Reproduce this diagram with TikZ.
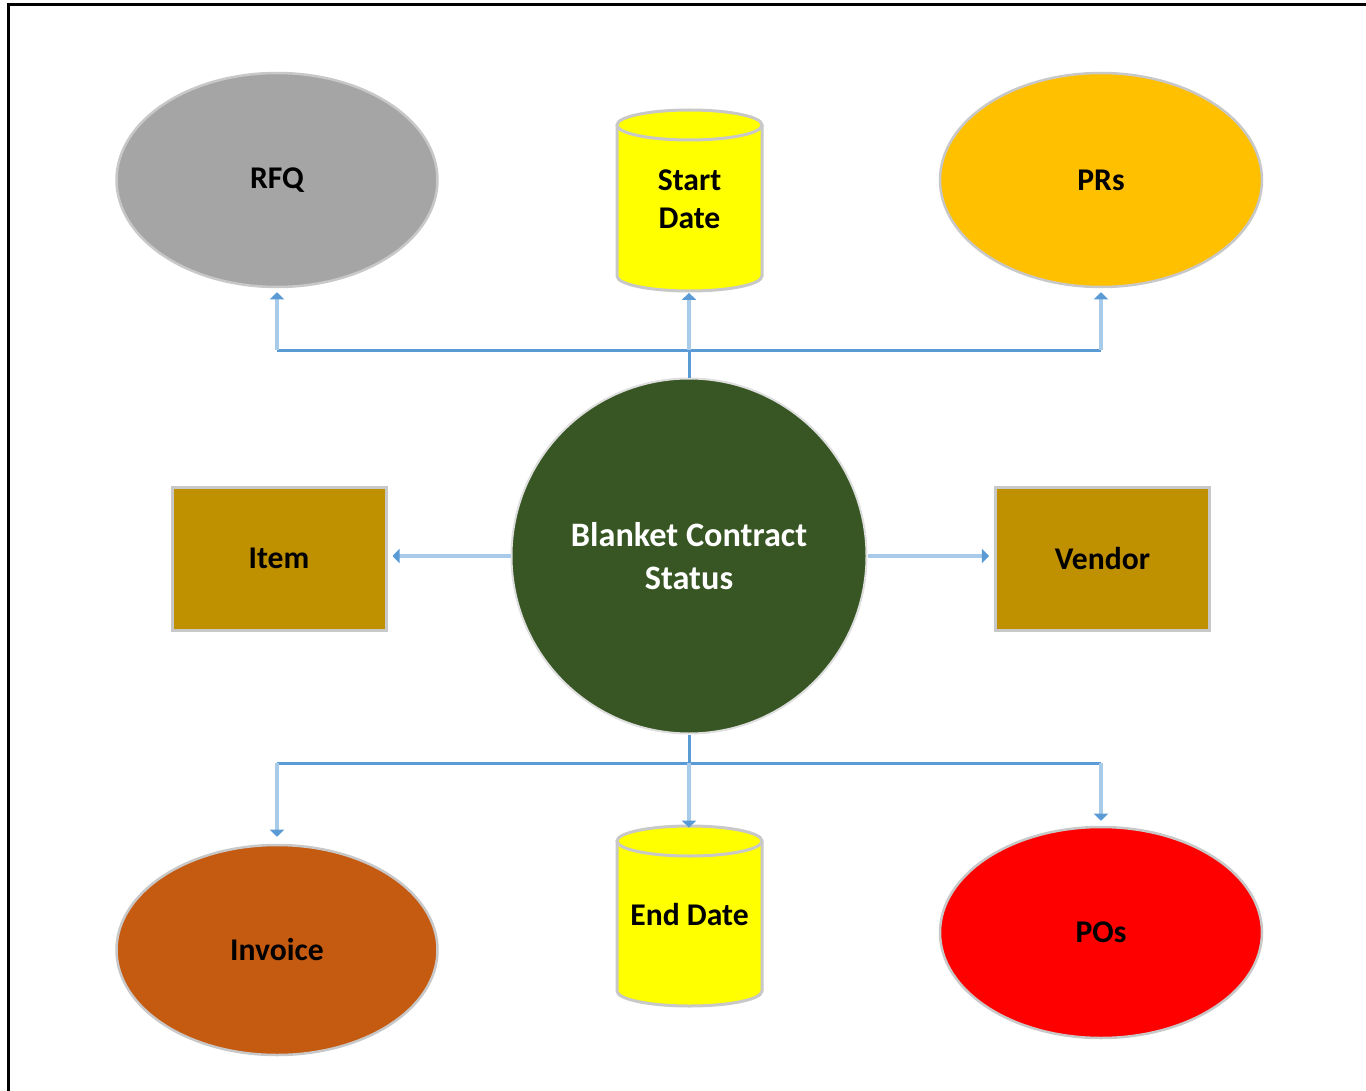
\documentclass[tikz,border=0pt]{standalone}
\usepackage{fontspec}
\setmainfont{Carlito}
\usetikzlibrary{arrows.meta,shapes.geometric}
\definecolor{conn}{HTML}{5B9BD5}
\definecolor{connlight}{HTML}{A9CBEA}
\definecolor{rfqgray}{HTML}{A5A5A5}
\definecolor{prsorange}{HTML}{FFC000}
\definecolor{darkgreen}{HTML}{375623}
\definecolor{gold}{HTML}{BF9000}
\definecolor{invoicebrown}{HTML}{C55A11}
\definecolor{posred}{HTML}{FF0000}
\definecolor{cylyellow}{HTML}{FFFF00}
\definecolor{rim}{HTML}{C8C8C8}
\newlength{\pxu}
\setlength{\pxu}{0.02cm}
\tikzset{
  ell/.style={ellipse, draw=rim, line width=2.5*\pxu, inner sep=0pt, font=\fontsize{18}{21.5}\selectfont\bfseries},
  boxnode/.style={rectangle, draw=rim, line width=3*\pxu, inner sep=0pt, minimum width=214*\pxu, minimum height=143*\pxu, fill=gold, font=\fontsize{18}{21.5}\selectfont\bfseries},
  cylnode/.style={rectangle, inner sep=0pt, minimum width=145*\pxu, align=center, font=\fontsize{18}{21.5}\selectfont\bfseries},
  trunk/.style={draw=conn, line width=3*\pxu},
  branch/.style={draw=connlight, line width=4*\pxu, -{Triangle[length=4pt,width=8pt,color=conn]}},
  frame/.style={draw=black, line width=3*\pxu}
}
\begin{document}
\begin{tikzpicture}[x=0.02cm,y=-0.02cm]
\useasboundingbox (0,0) rectangle (1366,1091);
% frame
\draw[frame] (8.5,1091) -- (8.5,5) -- (1366,5);

% cylinders (drawn directly)
\foreach \cx/\yt/\yb in {689.5/125/276, 689.5/841/991}{
  \fill[cylyellow] (\cx-72.5,\yt) rectangle (\cx+72.5,\yb);
  \fill[cylyellow] (\cx,\yb) ellipse [x radius=72.5, y radius=15];
  \fill[cylyellow] (\cx,\yt) ellipse [x radius=72.5, y radius=15];
  \draw[rim, line width=3*\pxu] (\cx-72.5,\yt) -- (\cx-72.5,\yb)
      arc[start angle=180, end angle=0, x radius=72.5, y radius=15] -- (\cx+72.5,\yt);
  \draw[rim, line width=3*\pxu] (\cx,\yt) ellipse [x radius=72.5, y radius=15];
}

% nodes
\node[ell, fill=rfqgray, minimum width=321*\pxu, minimum height=214*\pxu] (rfq) at (277,180) {RFQ};
\node[ell, fill=prsorange, minimum width=322*\pxu, minimum height=214*\pxu] (prs) at (1101,180) {PRs};
\node[ell, fill=invoicebrown, minimum width=321*\pxu, minimum height=210*\pxu] (inv) at (277,950) {Invoice};
\node[ell, fill=posred, minimum width=322*\pxu, minimum height=211*\pxu] (pos) at (1101,932.5) {POs};
\node[circle, fill=darkgreen, draw=rim!60, line width=2*\pxu, minimum size=355*\pxu, inner sep=0pt, text=white, align=center, font=\fontsize{19.5}{24.5}\selectfont\bfseries] (bc) at (689,556) {Blanket Contract\\Status};
\node[boxnode] (item) at (279,558.5) {Item};
\node[boxnode] (vendor) at (1102.5,558.5) {Vendor};
\node[cylnode, minimum height=182*\pxu] (sd) at (689.5,199.5) {Start\\Date};
\node[cylnode, minimum height=182*\pxu] (ed) at (689.5,915) {End Date};

% junctions
\coordinate (jt) at (689,350);
\coordinate (jtl) at (277,350);
\coordinate (jtr) at (1101,350);
\coordinate (jb) at (689,763);
\coordinate (jbl) at (277,763);
\coordinate (jbr) at (1101,763);

% top connectors
\draw[trunk] (bc.north) -- (jt);
\draw[trunk] (jtl) -- (jtr);
\draw[branch] (jtl) -- ([yshift=-4*\pxu]jtl |- rfq.south);
\draw[branch] (jt) -- ([yshift=-2*\pxu]jt |- sd.south);
\draw[branch] (jtr) -- ([yshift=-4*\pxu]jtr |- prs.south);

% bottom connectors
\draw[trunk] (bc.south) -- (jb);
\draw[trunk] (jbl) -- (jbr);
\draw[branch] (jbl) -- ([yshift=7*\pxu]jbl |- inv.north);
\draw[branch] (jb) -- ([yshift=-4*\pxu]jb |- ed.north);
\draw[branch] (jbr) -- ([yshift=5*\pxu]jbr |- pos.north);

% side connectors
\draw[branch] (bc.west) -- ([xshift=5*\pxu]bc.west -| item.east);
\draw[branch] (bc.east) -- ([xshift=-5*\pxu]bc.east -| vendor.west);
\end{tikzpicture}
\end{document}
